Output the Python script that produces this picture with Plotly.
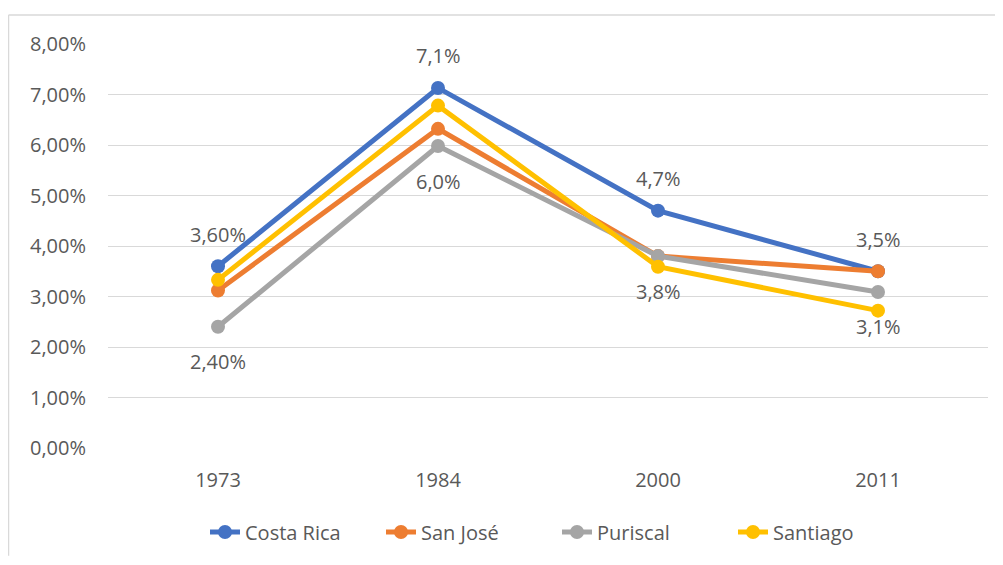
import plotly.graph_objects as go

years = ["1973", "1984", "2000", "2011"]
series_names = ["Costa Rica", "San José", "Puriscal", "Santiago"]
costa_rica = [3.60, 7.13, 4.70, 3.50]
san_jose = [3.12, 6.32, 3.80, 3.50]
puriscal = [2.40, 5.98, 3.80, 3.09]
santiago = [3.33, 6.78, 3.59, 2.72]
colors = ["#4472C4", "#ED7D31", "#A5A5A5", "#FFC000"]

y_ticks = [0, 1, 2, 3, 4, 5, 6, 7, 8]
y_tick_labels = ["0,00%", "1,00%", "2,00%", "3,00%", "4,00%", "5,00%", "6,00%", "7,00%", "8,00%"]

# data labels: (series, year index, text, above?)
label_series = ["Costa Rica", "Puriscal", "Costa Rica", "Puriscal", "Costa Rica", "Puriscal", "Costa Rica", "Puriscal"]
label_index = [0, 0, 1, 1, 2, 2, 3, 3]
label_text = ["3,60%", "2,40%", "7,1%", "6,0%", "4,7%", "3,8%", "3,5%", "3,1%"]
label_above = [True, False, True, False, True, False, True, False]

all_values = [costa_rica, san_jose, puriscal, santiago]
FONT = "Open Sans"
FS = 20
TXT = "#595959"
OFF = 8  # page body margin offset
FIG_W, FIG_H = 1003 - 2 * OFF, 565 - 2 * OFF

fig = go.Figure()
for name, vals, col in zip(series_names, all_values, colors):
    fig.add_trace(go.Scatter(
        x=list(range(len(years))), y=vals, name=name, mode="lines+markers",
        line=dict(color=col, width=5),
        marker=dict(color=col, size=14),
    ))

lookup = dict(zip(series_names, all_values))
for s, i, t, above in zip(label_series, label_index, label_text, label_above):
    fig.add_annotation(
        x=i, y=lookup[s][i], xref="x", yref="y", text=t, showarrow=False,
        yshift=32 if above else -35,
        font=dict(family=FONT, size=FS, color=TXT),
    )

# chart border (left and top visible), kept inside the figure bounds
L, R, T, B = 108 - OFF, 988 - OFF, 44 - OFF, 449 - OFF
W, H = R - L, B - T
bx = (8.5 - OFF - L) / W
by = 1 + (T - (15 - OFF)) / H
x_end = (FIG_W - L) / W
y_end = -(FIG_H - B) / H
fig.add_shape(type="line", xref="paper", yref="paper", x0=bx, x1=bx, y0=by, y1=y_end,
              line=dict(color="#d9d9d9", width=1.5))
fig.add_shape(type="line", xref="paper", yref="paper", x0=bx, x1=x_end, y0=by, y1=by,
              line=dict(color="#d9d9d9", width=1.5))

fig.update_layout(
    width=FIG_W, height=FIG_H,
    margin=dict(l=L, r=FIG_W - R, t=T, b=FIG_H - B),
    paper_bgcolor="white", plot_bgcolor="white",
    font=dict(family=FONT, size=FS, color=TXT),
    showlegend=True,
    legend=dict(orientation="h", x=(557 - OFF - L) / W, xanchor="center",
                y=(B - (532 - OFF)) / H, yanchor="middle",
                entrywidth=131, entrywidthmode="pixels",
                font=dict(family=FONT, size=FS, color=TXT)),
    xaxis=dict(range=[-0.5, 3.5], tickvals=list(range(len(years))), ticktext=years,
               showgrid=False, zeroline=False,
               showline=False, ticks="", ticklabelstandoff=18,
               tickfont=dict(family=FONT, size=FS, color=TXT)),
    yaxis=dict(range=[0, 8], tickvals=y_ticks, ticktext=y_tick_labels,
               showgrid=True, gridcolor="#d9d9d9", gridwidth=1.3, zeroline=False,
               showline=False, ticks="", ticklabelstandoff=21,
               tickfont=dict(family=FONT, size=FS, color=TXT)),
)

fig.write_html("out.html")
